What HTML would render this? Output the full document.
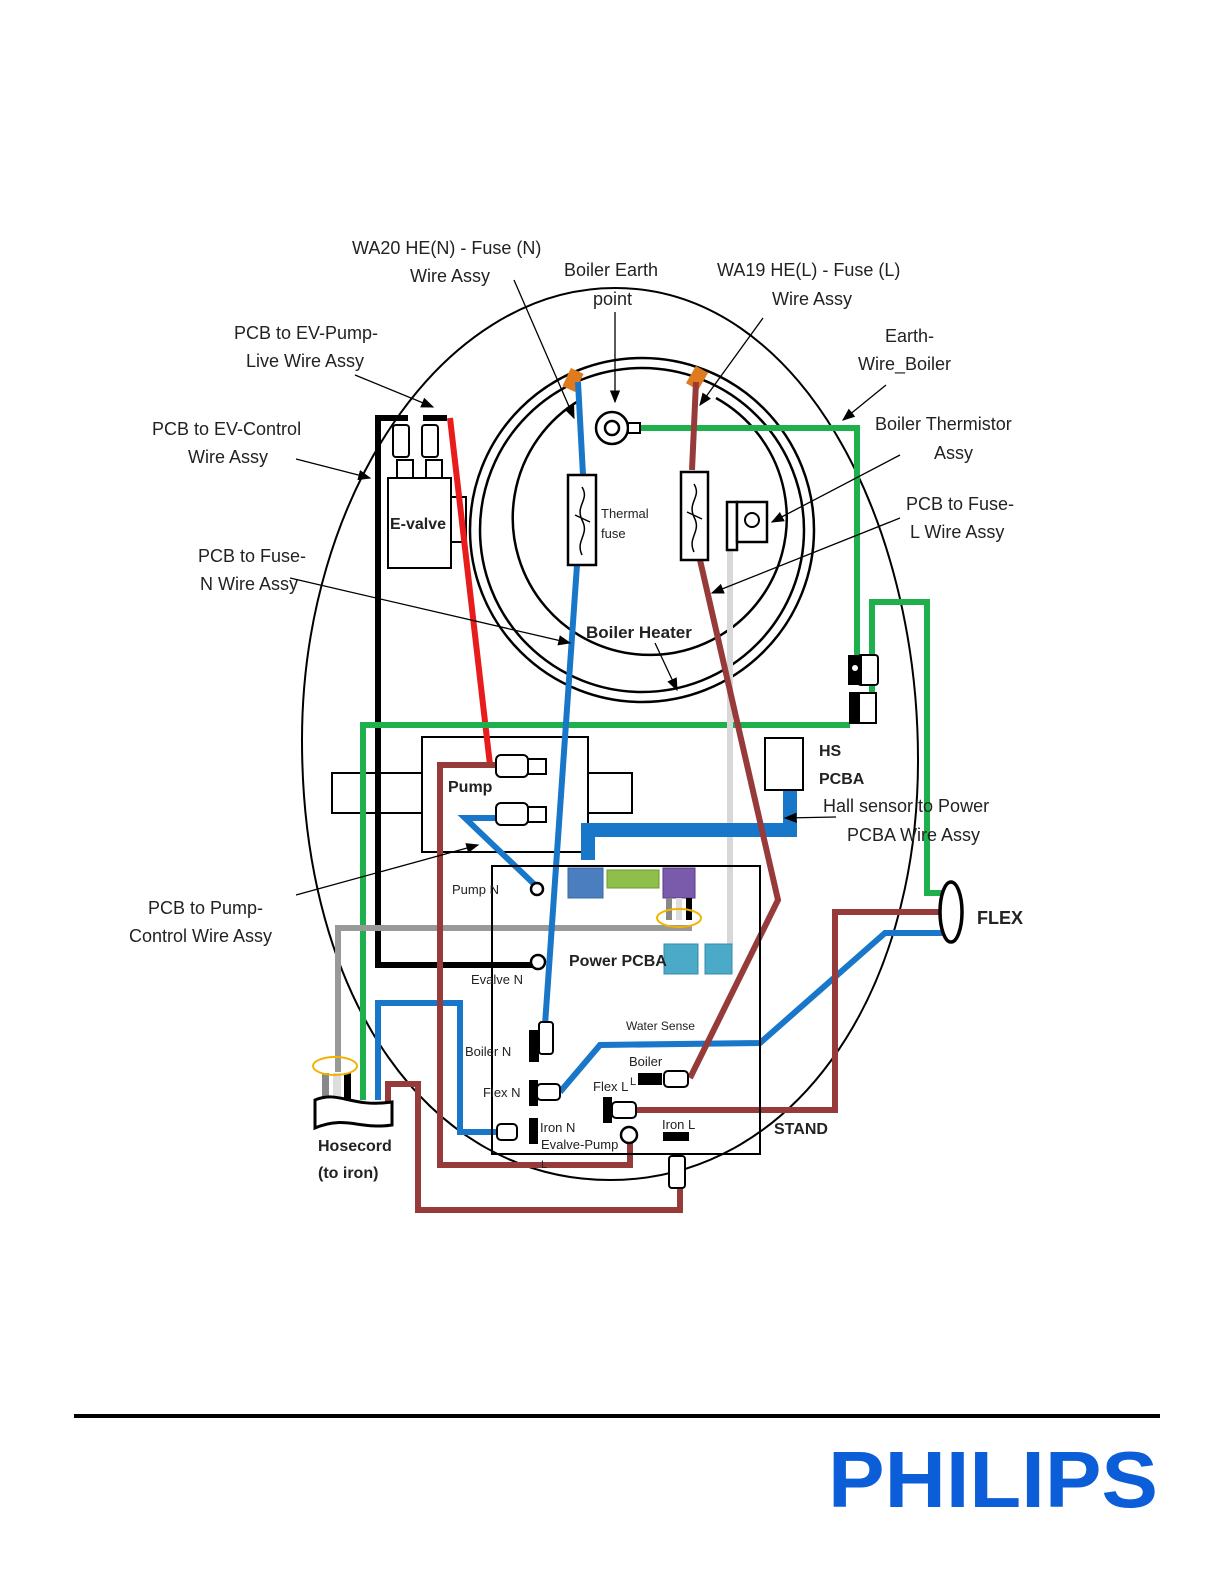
<!DOCTYPE html>
<html><head><meta charset="utf-8"><style>
html,body{margin:0;padding:0;background:#fff}
svg{display:block}
text{font-family:"Liberation Sans",sans-serif;fill:#222}
.l{font-size:18px}
.b{font-size:16px;font-weight:bold}
.s{font-size:13px}
</style></head><body>
<svg width="1224" height="1584" viewBox="0 0 1224 1584" xmlns="http://www.w3.org/2000/svg">
<defs><marker id="a" markerWidth="10" markerHeight="8" refX="9" refY="4" orient="auto"><path d="M0,0 L10,4 L0,8 Z" fill="#000"/></marker></defs>
<!-- egg -->
<path d="M615 288 C800 288 918 520 918 760 C918 1000 790 1180 610 1180 C430 1180 302 1000 302 740 C302 500 440 288 615 288 Z" fill="none" stroke="#000" stroke-width="2"/>
<!-- boiler circles -->
<g fill="none" stroke="#000" stroke-width="2.5">
<circle cx="642" cy="530" r="172"/>
<circle cx="642" cy="530" r="162"/>
<path d="M580 400 A137 137 0 1 0 716 398"/>
</g>
<rect x="566" y="370" width="14" height="20" fill="#e07a1f" transform="rotate(25 573 380)"/>
<rect x="690" y="368" width="14" height="20" fill="#e07a1f" transform="rotate(30 697 378)"/>
<!-- pump body (under wires) -->
<g fill="#fff" stroke="#000" stroke-width="2">
<rect x="332" y="773" width="300" height="40"/>
<rect x="422" y="737" width="166" height="115"/>
<rect x="451" y="497" width="15" height="45"/>
</g>
<!-- wires -->
<g fill="none" stroke-linejoin="miter">
<polyline points="378,418 378,965 535,965" stroke="#000" stroke-width="6"/>
<line x1="375" y1="418" x2="408" y2="418" stroke="#000" stroke-width="6"/>
<line x1="423" y1="418" x2="447" y2="418" stroke="#000" stroke-width="6"/>
<line x1="450" y1="418" x2="490" y2="765" stroke="#e81c1c" stroke-width="6"/>
<polyline points="640,428 857,428 857,660" stroke="#1db04c" stroke-width="6"/>
<polyline points="850,725 363,725 363,1100" stroke="#1db04c" stroke-width="6"/>
<polyline points="872,700 872,602 927,602 927,893 942,893" stroke="#1db04c" stroke-width="6"/>
<line x1="730" y1="550" x2="730" y2="945" stroke="#d8d8d8" stroke-width="6"/>
<polyline points="338,1072 338,928 692,928" stroke="#999" stroke-width="6"/>
<polyline points="578,382 583,475" stroke="#1877c9" stroke-width="6"/>
<polyline points="577,565 545,1025" stroke="#1877c9" stroke-width="6"/>
<polyline points="510,818 465,818 535,885" stroke="#1877c9" stroke-width="6"/>
<polyline points="588,860 588,830 790,830 790,790" stroke="#1877c9" stroke-width="14"/>
<polyline points="378,1100 378,1003 460,1003 460,1132 505,1132" stroke="#1877c9" stroke-width="6"/>
<polyline points="560,1092 600,1045 760,1043 885,933 942,933" stroke="#1877c9" stroke-width="6"/>
<polyline points="696,382 692,470" stroke="#973a3a" stroke-width="6"/>
<polyline points="700,560 778,900 690,1078" stroke="#973a3a" stroke-width="6"/>
<polyline points="495,765 440,765 440,1165 630,1165 630,1140" stroke="#973a3a" stroke-width="6"/>
<polyline points="635,1110 835,1110 835,912 942,912" stroke="#973a3a" stroke-width="6"/>
<polyline points="388,1102 388,1084 418,1084 418,1210 680,1210 680,1165" stroke="#973a3a" stroke-width="6"/>
</g>
<!-- earth ring -->
<circle cx="612" cy="428" r="16" fill="#fff" stroke="#000" stroke-width="2.5"/>
<circle cx="612" cy="428" r="7" fill="none" stroke="#000" stroke-width="2.5"/>
<rect x="628" y="423" width="12" height="10" fill="#fff" stroke="#000" stroke-width="2"/>
<!-- thermal fuses -->
<g fill="#fff" stroke="#000" stroke-width="2.5">
<rect x="568" y="475" width="28" height="90"/>
<rect x="681" y="472" width="27" height="88"/>
<rect x="727" y="502" width="10" height="48"/>
<rect x="737" y="502" width="30" height="40"/>
</g>
<circle cx="752" cy="520" r="7" fill="none" stroke="#000" stroke-width="2"/>
<path d="M582 487 C590 500 575 505 582 520 C590 535 575 540 582 555 M575 515 L590 522" fill="none" stroke="#000" stroke-width="1.5"/>
<path d="M694 484 C702 497 687 502 694 517 C702 532 687 537 694 552 M687 512 L702 519" fill="none" stroke="#000" stroke-width="1.5"/>
<text x="601" y="518" class="s">Thermal</text><text x="601" y="538" class="s">fuse</text>
<!-- E-valve -->
<g fill="#fff" stroke="#000" stroke-width="2">
<rect x="388" y="478" width="63" height="90"/>
<rect x="397" y="460" width="16" height="18"/><rect x="426" y="460" width="16" height="18"/>
<rect x="393" y="425" width="16" height="32" rx="3"/><rect x="422" y="425" width="16" height="32" rx="3"/>
<rect x="496" y="755" width="32" height="22" rx="5"/><rect x="528" y="759" width="18" height="15"/>
<rect x="496" y="803" width="32" height="22" rx="5"/><rect x="528" y="807" width="18" height="15"/>
<rect x="492" y="866" width="268" height="288" fill="none"/>
<rect x="765" y="738" width="38" height="52"/>
</g>
<text x="390" y="529" class="b">E-valve</text>
<text x="448" y="792" class="b">Pump</text>
<rect x="568" y="868" width="35" height="30" fill="#4a7ebf" stroke="#3a6aa0"/>
<rect x="607" y="870" width="52" height="18" fill="#8fbf4a" stroke="#6a9a30"/>
<rect x="663" y="868" width="32" height="30" fill="#7a5aaa" stroke="#5a3a8a"/>
<rect x="666" y="898" width="6" height="22" fill="#888"/><rect x="676" y="898" width="6" height="22" fill="#ddd"/><rect x="686" y="898" width="6" height="22" fill="#000"/>
<ellipse cx="679" cy="918" rx="22" ry="9" fill="none" stroke="#f0b400" stroke-width="2"/>
<rect x="664" y="944" width="34" height="30" fill="#4aaac8" stroke="#3a8aa8"/>
<rect x="705" y="944" width="27" height="30" fill="#4aaac8" stroke="#3a8aa8"/>
<circle cx="537" cy="889" r="6" fill="#fff" stroke="#000" stroke-width="2.5"/>
<circle cx="538" cy="962" r="7" fill="#fff" stroke="#000" stroke-width="2.5"/>
<circle cx="629" cy="1135" r="8" fill="#fff" stroke="#000" stroke-width="2.5"/>
<text x="569" y="966" class="b">Power PCBA</text>
<text x="452" y="894" class="s">Pump N</text>
<text x="471" y="984" class="s">Evalve N</text>
<text x="626" y="1030" style="font-size:12px">Water Sense</text>
<text x="465" y="1056" class="s">Boiler N</text>
<text x="483" y="1097" class="s">Flex N</text>
<text x="629" y="1066" class="s">Boiler</text>
<text x="593" y="1091" class="s">Flex L</text><text x="630" y="1085" style="font-size:11px">L</text>
<text x="540" y="1132" class="s">Iron N</text>
<text x="541" y="1149" class="s">Evalve-Pump</text><text x="541" y="1168" style="font-size:11px">L</text>
<text x="662" y="1129" class="s">Iron L</text>
<g fill="#000">
<rect x="529" y="1030" width="10" height="32"/><rect x="603" y="1097" width="9" height="26"/>
<rect x="529" y="1080" width="9" height="26"/><rect x="529" y="1118" width="9" height="26"/>
<rect x="638" y="1073" width="24" height="12"/><rect x="663" y="1132" width="26" height="9"/>
</g>
<g fill="#fff" stroke="#000" stroke-width="2">
<rect x="539" y="1022" width="14" height="32" rx="3"/>
<rect x="537" y="1084" width="23" height="16" rx="4"/>
<rect x="497" y="1124" width="20" height="16" rx="4"/>
<rect x="612" y="1102" width="24" height="16" rx="4"/>
<rect x="664" y="1071" width="24" height="16" rx="4"/>
<rect x="669" y="1156" width="16" height="32" rx="3"/>
<rect x="858" y="655" width="20" height="30" rx="3"/>
<rect x="850" y="693" width="26" height="30"/>
</g>
<rect x="848" y="655" width="14" height="30" fill="#000"/>
<circle cx="855" cy="668" r="3" fill="#fff"/>
<rect x="850" y="693" width="10" height="30" fill="#000"/>
<ellipse cx="951" cy="912" rx="11" ry="30" fill="#fff" stroke="#000" stroke-width="3.5"/>
<text x="977" y="924" class="b" style="font-size:18px">FLEX</text>
<text x="774" y="1134" class="b">STAND</text>
<text x="819" y="756" class="b">HS</text><text x="819" y="784" class="b">PCBA</text>
<rect x="322" y="1073" width="7" height="27" fill="#888"/><rect x="333" y="1073" width="8" height="27" fill="#ddd"/><rect x="344" y="1073" width="7" height="27" fill="#000"/>
<ellipse cx="335" cy="1066" rx="22" ry="9" fill="none" stroke="#f0b400" stroke-width="2"/>
<path d="M315 1100 C340 1090 350 1108 392 1102 L392 1125 C360 1130 345 1115 315 1128 Z" fill="#fff" stroke="#000" stroke-width="3"/>
<text x="318" y="1151" class="b">Hosecord</text><text x="318" y="1178" class="b">(to iron)</text>
<g>
<text x="352" y="254" class="l">WA20 HE(N) - Fuse (N)</text>
<text x="410" y="282" class="l">Wire Assy</text>
<text x="564" y="276" class="l">Boiler Earth</text>
<text x="593" y="305" class="l">point</text>
<text x="717" y="276" class="l">WA19 HE(L) - Fuse (L)</text>
<text x="772" y="305" class="l">Wire Assy</text>
<text x="885" y="342" class="l">Earth-</text>
<text x="858" y="370" class="l">Wire_Boiler</text>
<text x="875" y="430" class="l">Boiler Thermistor</text>
<text x="934" y="459" class="l">Assy</text>
<text x="906" y="510" class="l">PCB to Fuse-</text>
<text x="910" y="538" class="l">L Wire Assy</text>
<text x="234" y="339" class="l">PCB to EV-Pump-</text>
<text x="246" y="367" class="l">Live Wire Assy</text>
<text x="152" y="435" class="l">PCB to EV-Control</text>
<text x="188" y="463" class="l">Wire Assy</text>
<text x="198" y="562" class="l">PCB to Fuse-</text>
<text x="200" y="590" class="l">N Wire Assy</text>
<text x="586" y="638" class="b" style="font-size:17px">Boiler Heater</text>
<text x="823" y="812" class="l">Hall sensor to Power</text>
<text x="847" y="841" class="l">PCBA Wire Assy</text>
<text x="148" y="914" class="l">PCB to Pump-</text>
<text x="129" y="942" class="l">Control Wire Assy</text>
</g>
<g stroke="#000" stroke-width="1.3" fill="none" marker-end="url(#a)">
<line x1="514" y1="280" x2="574" y2="418"/>
<line x1="615" y1="312" x2="615" y2="402"/>
<line x1="763" y1="318" x2="700" y2="405"/>
<line x1="886" y1="385" x2="843" y2="420"/>
<line x1="900" y1="455" x2="772" y2="522"/>
<line x1="900" y1="518" x2="712" y2="593"/>
<line x1="355" y1="375" x2="433" y2="407"/>
<line x1="296" y1="459" x2="370" y2="478"/>
<line x1="290" y1="578" x2="570" y2="643"/>
<line x1="655" y1="643" x2="677" y2="690"/>
<line x1="836" y1="817" x2="785" y2="818"/>
<line x1="296" y1="895" x2="478" y2="845"/>
</g>
<rect x="74" y="1414" width="1086" height="4" fill="#000"/>
<text x="828" y="1507" textLength="330" lengthAdjust="spacingAndGlyphs" style="font-family:'Liberation Sans',sans-serif;font-weight:bold;font-size:80px;fill:#0b5ed7">PHILIPS</text>
</svg>
</body></html>
